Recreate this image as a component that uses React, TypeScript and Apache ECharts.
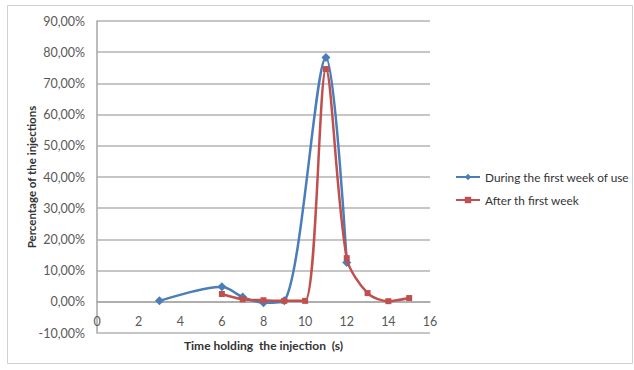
import React, { useEffect, useRef } from "react";
import * as echarts from "echarts";

const duringX = [3, 6, 7, 8, 9, 11, 12];
const duringY = [0.3, 4.8, 1.5, -0.3, 0.3, 78.3, 12.6];
const afterX = [6, 7, 8, 9, 10, 11, 12, 13, 14, 15];
const afterY = [2.5, 0.8, 0.5, 0.3, 0.3, 74.6, 14.0, 2.8, 0.2, 1.2];
const seriesNames = ["During the first week of use", "After th first week"];
const xTitle = "Time holding  the injection  (s)";
const yTitle = "Percentage of the injections";

const FONT = "Lato, 'Open Sans', sans-serif";

export default function App() {
  const ref = useRef<HTMLDivElement>(null);
  useEffect(() => {
    if (!ref.current) return;
    const chart = echarts.init(ref.current, undefined, { renderer: "svg" });
    chart.setOption({
      animation: false,
      backgroundColor: "#ffffff",
      textStyle: { fontFamily: FONT },
      graphic: [
        {
          type: "rect",
          shape: { x: 7.5, y: 5.5, width: 625, height: 358 },
          style: { fill: "none", stroke: "#d0d0d0", lineWidth: 1 },
          silent: true,
        },
      ],
      grid: { left: 97, top: 21, width: 333, height: 312, outerBoundsMode: "none", containLabel: false },
      legend: {
        orient: "vertical",
        left: 455,
        top: 171,
        padding: 0,
        itemGap: 11,
        itemWidth: 24,
        itemHeight: 8,
        textStyle: { fontFamily: FONT, fontSize: 11.8, color: "#333" },
        data: seriesNames,
      },
      xAxis: {
        type: "value",
        min: 0,
        max: 16,
        interval: 2,
        offset: -31.2,
        axisLine: { onZero: false, lineStyle: { color: "#a6a6a6", width: 1.5 } },
        axisTick: { show: false },
        splitLine: { show: false },
        axisLabel: { fontFamily: FONT, fontSize: 12.5, color: "#595959", margin: 13 },
        name: xTitle,
        nameLocation: "middle",
        nameGap: 38,
        nameMoveOverlap: false,
        nameTextStyle: { fontFamily: FONT, fontSize: 12, fontWeight: "bold", color: "#333" },
      },
      yAxis: {
        type: "value",
        min: -10,
        max: 90,
        interval: 10,
        axisLine: { show: true, onZero: false, lineStyle: { color: "#a6a6a6", width: 1.5 } },
        axisTick: { show: false },
        splitLine: { show: true, lineStyle: { color: "#b3b3b3", width: 1.5 } },
        axisLabel: {
          fontFamily: FONT,
          fontSize: 12.5,
          color: "#595959",
          margin: 12,
          formatter: (v: number) => v.toFixed(2).replace(".", ",") + "%",
        },
        name: yTitle,
        nameLocation: "middle",
        nameGap: 60,
        nameMoveOverlap: false,
        nameTextStyle: { fontFamily: FONT, fontSize: 11.5, fontWeight: "bold", color: "#333" },
      },
      series: [
        {
          name: seriesNames[0],
          type: "line",
          smooth: 0.3,
          data: duringX.map((x, i) => [x, duringY[i]]),
          symbol: "diamond",
          symbolSize: 9,
          lineStyle: { color: "#4a7ebb", width: 2.5 },
          itemStyle: { color: "#4a7ebb" },
          z: 2,
        },
        {
          name: seriesNames[1],
          type: "line",
          smooth: 0.3,
          data: afterX.map((x, i) => [x, afterY[i]]),
          symbol: "rect",
          symbolSize: 6,
          lineStyle: { color: "#c0504d", width: 2.5 },
          itemStyle: { color: "#c0504d" },
          z: 3,
        },
      ],
    });
    return () => chart.dispose();
  }, []);
  return (
    <div
      ref={ref}
      style={{ position: "absolute", left: 0, top: 0, width: 634, height: 370 }}
    />
  );
}
